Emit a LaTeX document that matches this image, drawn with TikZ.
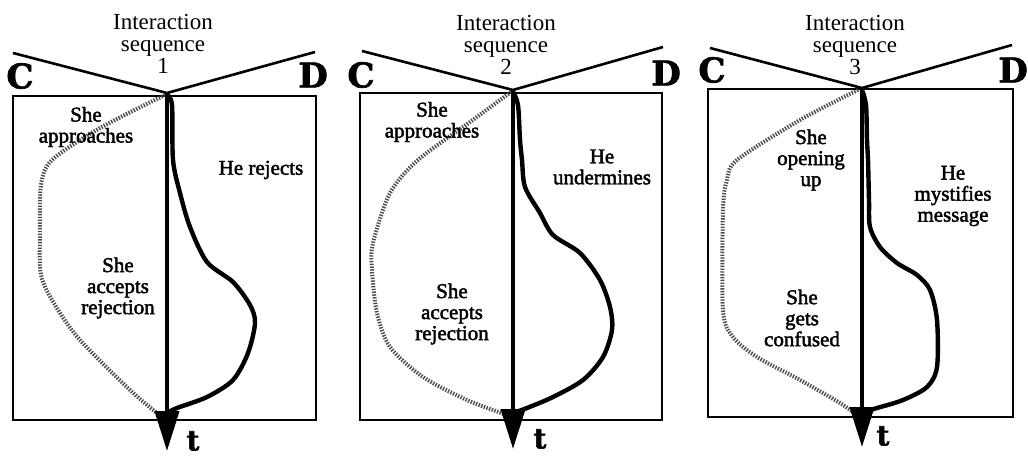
\documentclass[tikz,border=0pt]{standalone}
\usepackage{fontspec}
\setmainfont{Liberation Serif}
\newfontfamily\heavy{DejaVu Serif}[FakeBold=2]
\newfontfamily\labfont{Liberation Serif}[FakeBold=2]
\usetikzlibrary{arrows.meta}
\tikzset{
  panelbox/.style={draw, line width=2pt},
  vline/.style={line width=2.6pt},
  timeaxis/.style={line width=4.2pt, -{Triangle[length=40pt,width=24pt]}},
  shepath/.style={line width=4pt, black!70, dash pattern=on 1.4pt off 1.4pt},
  hepath/.style={line width=4.4pt, line cap=round, line join=round},
  lab/.style={font=\labfont\fontsize{21}{21}\selectfont, align=center, inner sep=0pt},
  ttl/.style={font=\fontsize{23}{22}\selectfont, align=center, inner sep=0pt},
  big/.style={font=\heavy\bfseries\fontsize{34}{34}\selectfont, inner sep=0pt},
  tlab/.style={font=\heavy\bfseries\fontsize{28}{28}\selectfont, inner sep=0pt},
}
\begin{document}
\begin{tikzpicture}[x=1pt,y=-1pt]
\useasboundingbox (0,0) rectangle (1028,457);
% ---------- Panel 1 ----------
\draw[panelbox] (13,96) rectangle (316,420);
\coordinate (a1) at (167,93);
\coordinate (t1) at (167,451);
\coordinate (l1) at (13,53);
\coordinate (r1) at (315,52);
\draw[vline] (l1) -- (a1) -- (r1);
\node[big] (c1) at (20,76) {C};
\node[big] (d1) at (313,75) {D};
\node[ttl] (s1) at (163,44) {Interaction\\sequence\\1};
\draw[shepath] plot[smooth] coordinates {(165,95) (100,128) (52,160) (41,185) (40,230) (41,275) (55,305) (80,340) (130,390) (163,418)};
\draw[hepath] plot[smooth] coordinates {(167,95) (172,105) (173,160) (180,193) (190,227) (207,262) (233,282) (250,305) (255,323) (248,353) (233,380) (207,397) (177,408) (167,413)};
\draw[timeaxis] (a1) -- (t1);
\node[tlab] (tt1) at (193,441) {t};
\node[lab] (p1a) at (86,127) {She\\approaches};
\node[lab] (p1b) at (261,170) {He rejects};
\node[lab] (p1c) at (118,288) {She\\accepts\\rejection};
% ---------- Panel 2 ----------
\draw[panelbox] (360,93) rectangle (662,420);
\coordinate (a2) at (513,90);
\coordinate (t2) at (513,449);
\coordinate (l2) at (362,51);
\coordinate (r2) at (663,47);
\draw[vline] (l2) -- (a2) -- (r2);
\node[big] (c2) at (361,75) {C};
\node[big] (d2) at (666,73) {D};
\node[ttl] (s2) at (506,45) {Interaction\\sequence\\2};
\draw[shepath] plot[smooth] coordinates {(511,92) (470,122) (418,160) (390,193) (373,243) (372,270) (377,313) (390,347) (423,377) (467,400) (507,415)};
\draw[hepath] plot[smooth] coordinates {(513,92) (518,105) (520,140) (522,160) (525,187) (540,213) (553,235) (580,253) (600,280) (610,307) (612,330) (603,357) (583,380) (553,397) (527,408) (513,413)};
\draw[timeaxis] (a2) -- (t2);
\node[tlab] (tt2) at (540,439) {t};
\node[lab] (p2a) at (432,122) {She\\approaches};
\node[lab] (p2b) at (602,167) {He\\undermines};
\node[lab] (p2c) at (452,314) {She\\accepts\\rejection};
% ---------- Panel 3 ----------
\draw[panelbox] (708,89) rectangle (1013,417);
\coordinate (a3) at (862,88);
\coordinate (t3) at (862,447);
\coordinate (l3) at (710,48);
\coordinate (r3) at (1012,45);
\draw[vline] (l3) -- (a3) -- (r3);
\node[big] (c3) at (712,70) {C};
\node[big] (d3) at (1013,70) {D};
\node[ttl] (s3) at (855,45) {Interaction\\sequence\\3};
\draw[shepath] plot[smooth] coordinates {(858,90) (800,120) (737,160) (727,180) (723,210) (723,310) (733,337) (757,357) (800,380) (840,403) (857,415)};
\draw[hepath] plot[smooth] coordinates {(862,90) (866,105) (867,140) (868,160) (869,200) (870,227) (880,247) (897,263) (917,275) (930,290) (937,320) (937,367) (927,387) (903,400) (877,408) (863,412)};
\draw[timeaxis] (a3) -- (t3);
\node[tlab] (tt3) at (883,436) {t};
\node[lab] (p3a) at (811,160) {She\\opening\\up};
\node[lab] (p3b) at (953,196) {He\\mystifies\\message};
\node[lab] (p3c) at (802,318) {She\\gets\\confused};
\end{tikzpicture}
\end{document}
